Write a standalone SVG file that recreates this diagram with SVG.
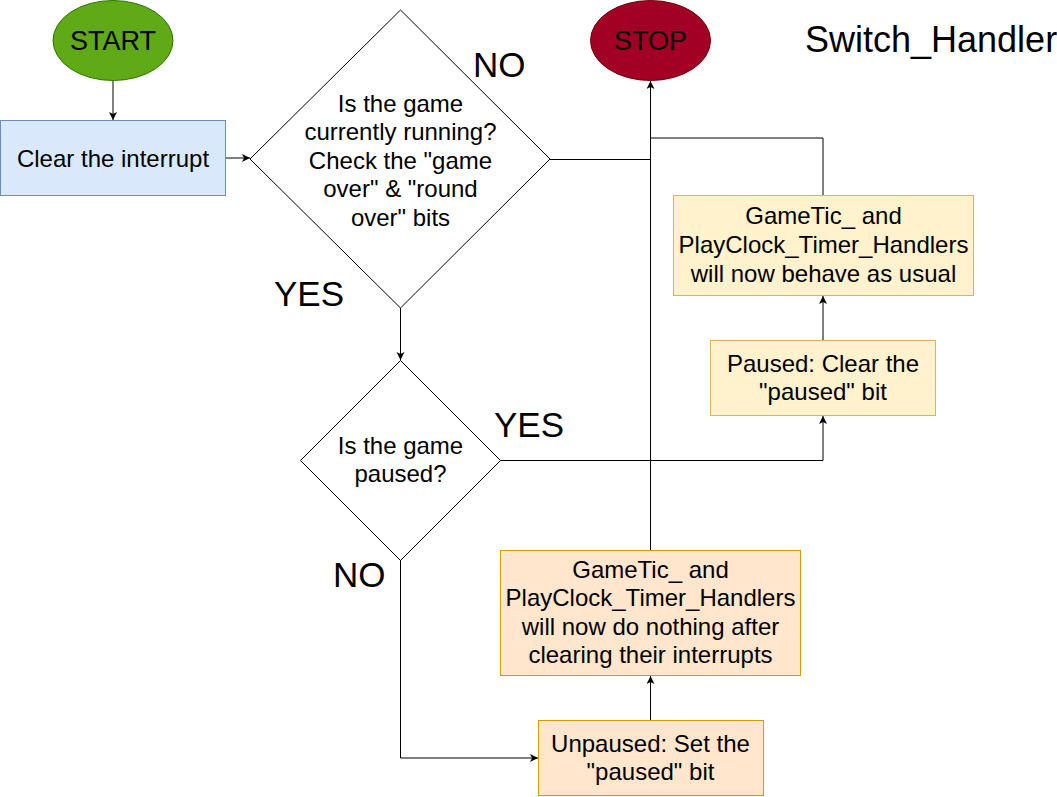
<svg xmlns="http://www.w3.org/2000/svg" width="1057" height="797" viewBox="0 0 1057 797">
<style>
text{font-family:"Liberation Sans",Arial,sans-serif;fill:#000;text-anchor:middle}
.t{font-size:24px}
.term{font-size:27px}
.lbl{font-size:35px;text-anchor:start}
.ttl{font-size:36px;text-anchor:start}
.c{fill:none;stroke:#000;stroke-width:1}
.blue{fill:#dae8fc;stroke:#6c8ebf}
.yel{fill:#fff2cc;stroke:#d6b656}
.org{fill:#ffe6cc;stroke:#d79b00}
.dia{fill:#fff;stroke:#000}
</style>
<defs>
<marker id="ar" markerUnits="userSpaceOnUse" markerWidth="10" markerHeight="10" refX="8" refY="4" orient="auto">
<path d="M8,4 L0,0 L2,4 L0,8 Z" fill="#000"/>
</marker>
</defs>
<rect width="1057" height="797" fill="#fff"/>
<g id="connectors">
<path class="c" d="M113,80.5 V120" marker-end="url(#ar)"/>
<path class="c" d="M225.5,158 H250" marker-end="url(#ar)"/>
<path class="c" d="M400.5,308 V360" marker-end="url(#ar)"/>
<path class="c" d="M550,159.5 H650.5"/>
<path class="c" d="M650.5,550 V81" marker-end="url(#ar)"/>
<path class="c" d="M823,195 V138 H650.5"/>
<path class="c" d="M823,340 V296" marker-end="url(#ar)"/>
<path class="c" d="M500,460.5 H823 V416" marker-end="url(#ar)"/>
<path class="c" d="M400.5,560 V758 H538" marker-end="url(#ar)"/>
<path class="c" d="M650.5,720 V676" marker-end="url(#ar)"/>
</g>
<g id="start">
<ellipse cx="113" cy="40.5" rx="60" ry="40" fill="#60a917" stroke="#2d7600"/>
<text class="term" x="113" y="50">START</text>
</g>
<g id="stop">
<ellipse cx="650.5" cy="40.5" rx="60" ry="40" fill="#a20025" stroke="#6f0000"/>
<text class="term" x="650.5" y="50">STOP</text>
</g>
<g id="title">
<text class="ttl" x="805" y="52">Switch_Handler</text>
</g>
<g id="clear">
<rect class="blue" x="0.5" y="120.5" width="225" height="75"/>
<text class="t" x="113" y="166.5">Clear the interrupt</text>
</g>
<g id="running">
<path class="dia" d="M400.5,10 L550,159 L400.5,308 L250,159 Z"/>
<text class="t" x="400.5" y="111.5">Is the game</text>
<text class="t" x="400.5" y="140">currently running?</text>
<text class="t" x="400.5" y="168.5">Check the "game</text>
<text class="t" x="400.5" y="197">over" &amp; "round</text>
<text class="t" x="400.5" y="225.5">over" bits</text>
</g>
<g id="paused">
<path class="dia" d="M400.5,360.5 L500.5,460.5 L400.5,560.5 L300.5,460.5 Z"/>
<text class="t" x="400.5" y="453.5">Is the game</text>
<text class="t" x="400.5" y="482">paused?</text>
</g>
<g id="labels">
<text class="lbl" x="473" y="77">NO</text>
<text class="lbl" x="274" y="306">YES</text>
<text class="lbl" x="494" y="437">YES</text>
<text class="lbl" x="333" y="587">NO</text>
</g>
<g id="behave">
<rect class="yel" x="673.5" y="195.5" width="300" height="100"/>
<text class="t" x="823.5" y="224">GameTic_ and</text>
<text class="t" x="823.5" y="253">PlayClock_Timer_Handlers</text>
<text class="t" x="823.5" y="282">will now behave as usual</text>
</g>
<g id="clearpaused">
<rect class="yel" x="710.5" y="340.5" width="225" height="75"/>
<text class="t" x="823" y="371.5">Paused: Clear the</text>
<text class="t" x="823" y="400">"paused" bit</text>
</g>
<g id="nothing">
<rect class="org" x="500.5" y="550.5" width="300" height="125"/>
<text class="t" x="650.5" y="577.5">GameTic_ and</text>
<text class="t" x="650.5" y="606">PlayClock_Timer_Handlers</text>
<text class="t" x="650.5" y="634.5">will now do nothing after</text>
<text class="t" x="650.5" y="663">clearing their interrupts</text>
</g>
<g id="setpaused">
<rect class="org" x="538.5" y="720.5" width="225" height="75"/>
<text class="t" x="650.5" y="751.5">Unpaused: Set the</text>
<text class="t" x="650.5" y="780">"paused" bit</text>
</g>
</svg>
